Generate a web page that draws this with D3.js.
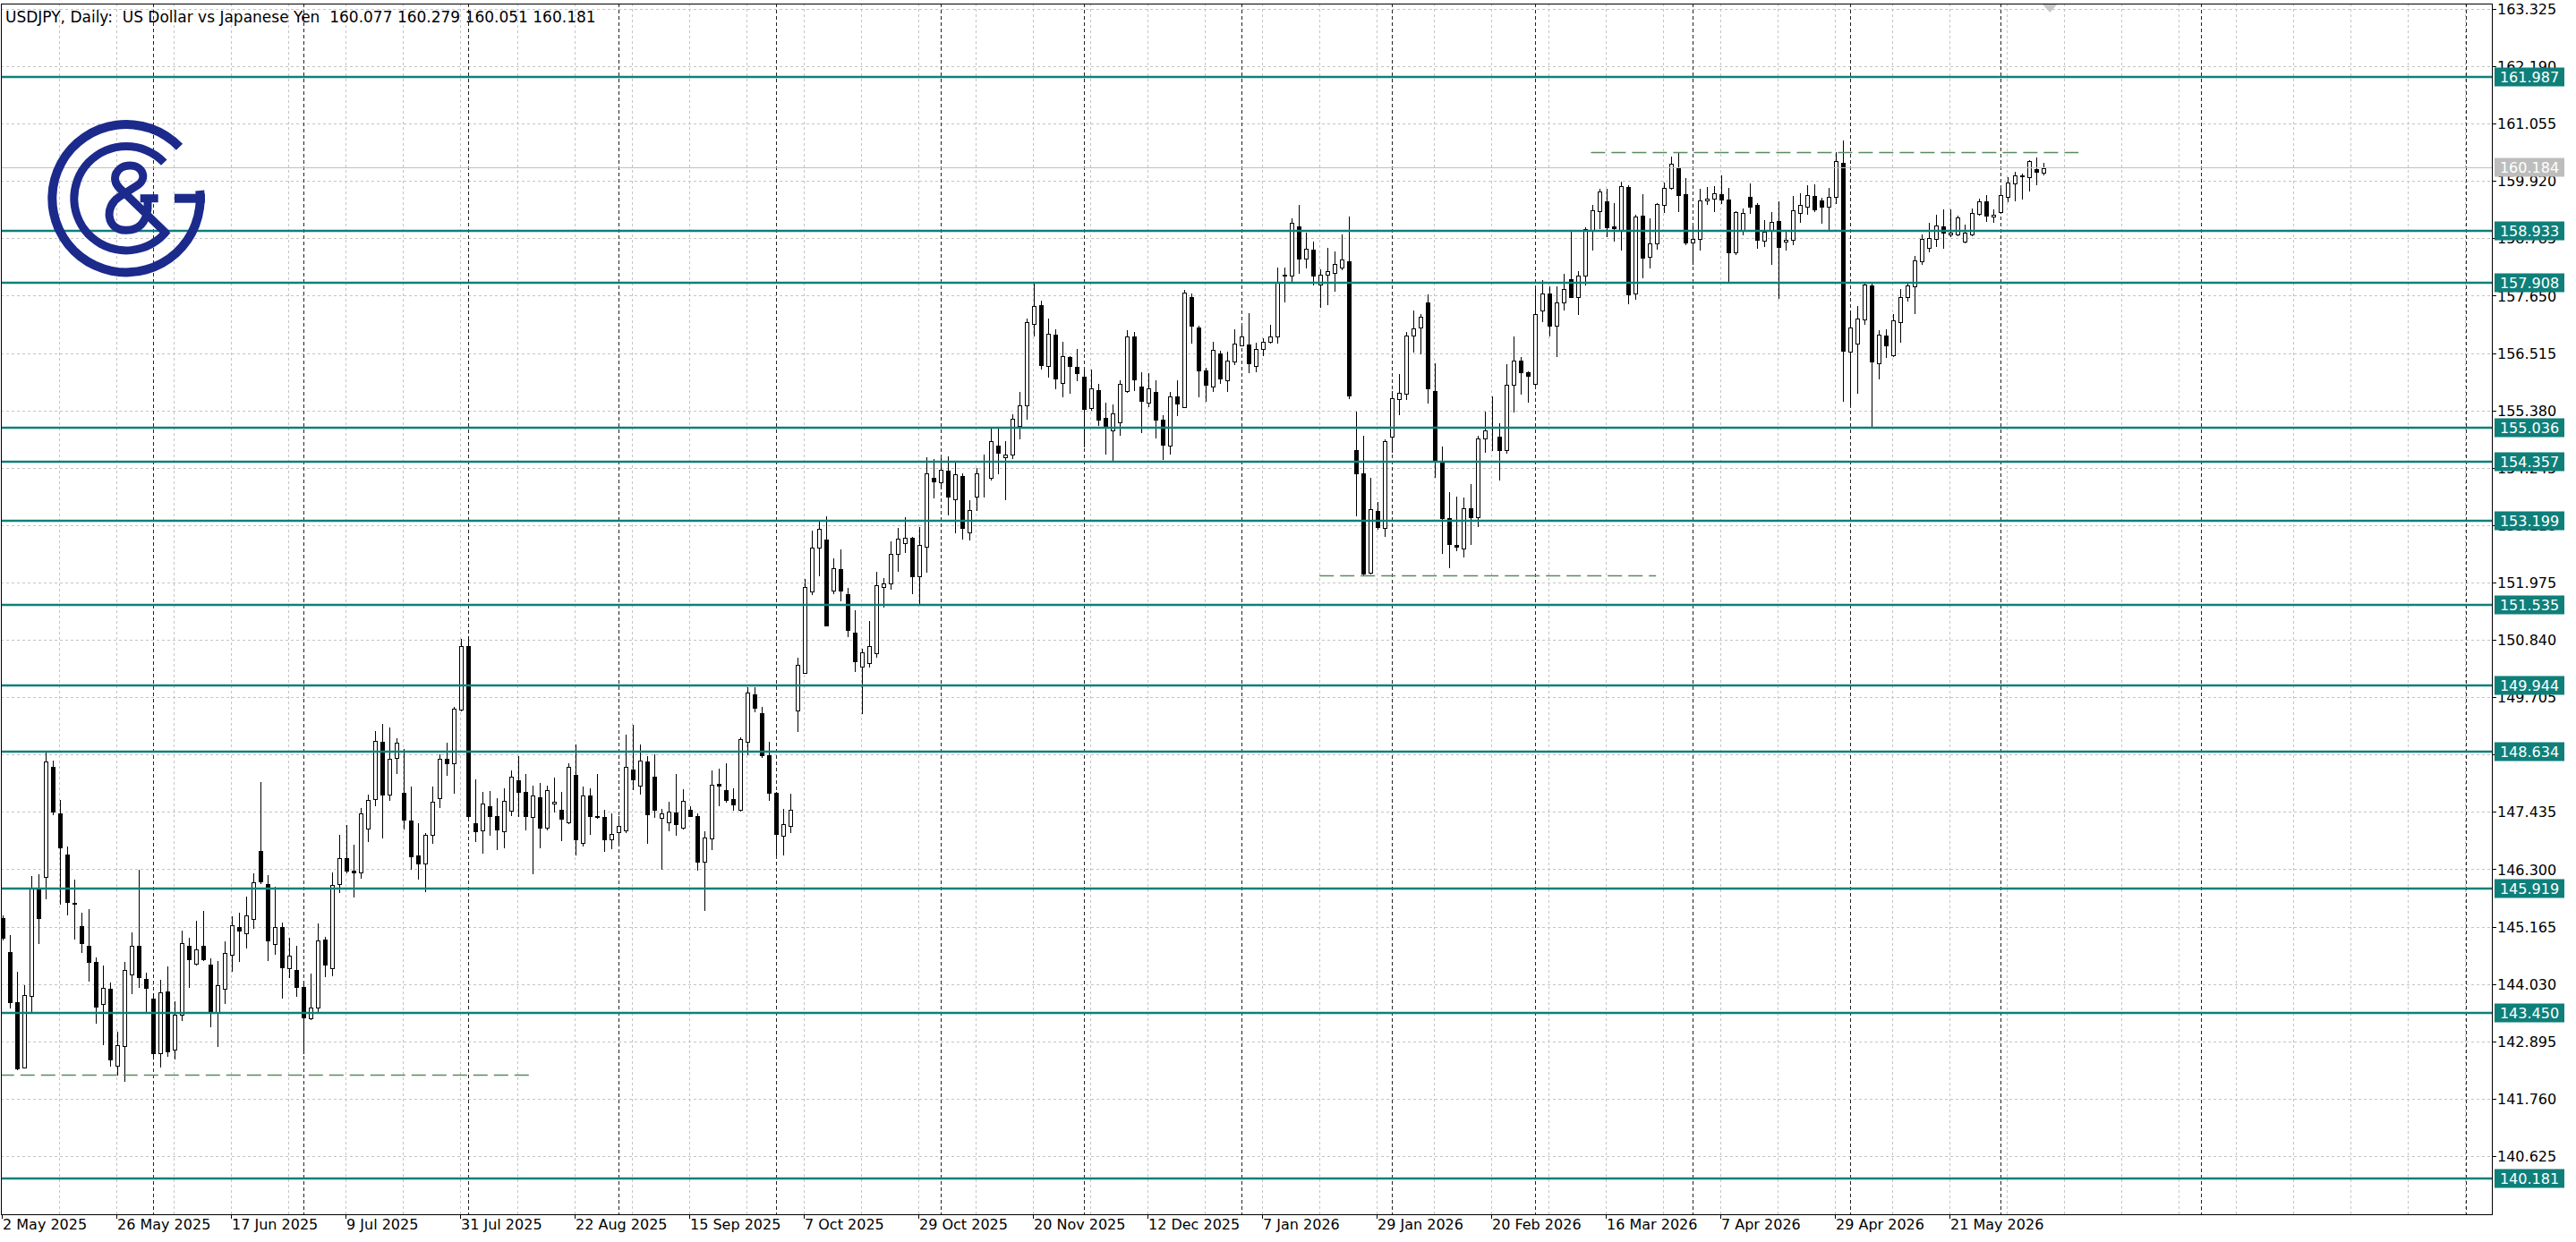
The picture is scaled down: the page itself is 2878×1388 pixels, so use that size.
<!DOCTYPE html>
<html><head><meta charset="utf-8">
<script src="https://cdn.jsdelivr.net/npm/d3@7"></script>
<style>
html,body{margin:0;padding:0;background:#fff;overflow:hidden}
svg text{font-family:"DejaVu Sans",sans-serif;}
</style></head><body>
<svg id="c" width="2878" height="1388"></svg>
<script>
// ---------- DATA ----------
const titleText = "USDJPY, Daily:  US Dollar vs Japanese Yen  160.077 160.279 160.051 160.181";
const opens = [
145.34,144.67,143.67,142.37,143.79,145.90,146.15,148.32,147.41,146.60,
145.63,145.17,144.78,144.46,143.64,143.94,142.41,142.80,144.22,144.78,
144.13,143.75,142.66,143.89,142.73,143.43,144.78,144.43,144.79,144.41,
143.46,143.94,144.61,145.15,145.03,145.32,146.67,146.01,144.82,145.15,
144.34,144.31,143.98,143.35,143.57,144.91,144.35,146.01,146.53,146.28,
146.23,147.10,147.69,148.82,147.78,148.51,147.82,147.26,146.58,146.42,
146.98,147.71,148.49,148.40,149.46,150.72,147.21,147.07,147.55,147.35,
147.06,147.46,148.06,147.83,147.33,147.72,147.13,147.60,147.48,147.23,
148.17,146.83,147.76,147.36,147.33,146.89,147.04,147.07,148.27,147.96,
148.44,148.13,147.31,147.23,147.43,147.12,147.48,147.36,146.45,146.91,
147.99,147.87,147.69,147.47,148.83,149.77,149.39,148.56,147.81,146.97,
147.16,149.44,150.19,151.79,152.67,152.82,151.81,152.24,151.75,150.99,
150.31,150.39,150.58,151.89,151.95,152.54,152.75,152.86,152.10,152.69,
154.05,153.96,154.19,153.63,154.09,152.96,153.67,154.13,154.04,154.69,
154.46,154.50,155.08,155.48,157.10,157.47,156.26,156.88,155.92,156.43,
156.24,156.05,155.42,155.79,155.23,154.99,155.14,155.77,156.85,155.85,
155.54,155.75,155.19,154.69,155.65,155.45,157.62,157.03,156.17,155.85,
156.50,155.98,156.34,156.67,156.68,156.26,156.59,156.74,156.84,158.06,
158.05,159.02,158.38,158.56,157.88,158.07,158.11,158.21,158.33,154.60,
154.14,152.17,153.40,153.06,154.86,155.60,155.71,156.87,157.03,157.52,
155.77,154.37,153.25,152.72,152.65,153.45,153.27,154.82,155.05,154.87,
154.59,155.88,156.36,156.14,155.91,157.36,157.69,157.06,157.52,157.98,
157.62,158.05,158.93,159.32,159.52,159.02,158.96,159.81,157.69,159.24,
158.42,158.69,159.45,159.78,160.17,159.66,158.70,158.77,159.54,159.57,
159.66,159.55,158.50,158.93,159.60,159.44,158.74,158.93,159.13,158.73,
158.76,159.29,159.42,159.62,159.54,159.42,159.61,160.28,156.54,156.70,
157.18,157.86,156.32,156.87,156.47,157.13,157.62,157.83,158.33,158.60,
158.77,159.02,158.87,158.87,158.73,158.86,159.27,159.51,159.22,159.31,
159.61,159.87,160.04,160.00,160.16,160.077];
const highs = [
145.38,145.00,144.27,144.01,146.17,146.20,148.61,148.46,147.68,146.75,
146.10,145.44,145.52,144.55,144.39,144.06,143.08,144.47,145.06,146.29,
144.25,143.84,144.11,144.38,143.68,145.08,144.95,145.29,145.47,144.53,
144.49,144.87,145.37,145.44,145.76,146.22,148.03,146.18,145.95,145.25,
144.95,144.78,144.08,144.24,145.22,144.97,146.24,146.99,147.18,146.79,
147.51,147.78,149.03,149.18,149.10,148.89,148.68,147.94,147.21,147.02,
147.94,148.57,148.81,149.52,150.86,150.91,148.08,147.83,147.85,147.70,
147.91,148.25,148.54,148.18,147.96,148.00,147.96,148.12,147.83,148.40,
148.77,147.93,147.90,148.18,147.47,147.40,147.35,148.96,149.16,148.77,
148.54,148.58,147.49,147.63,148.18,147.89,147.54,147.41,147.06,148.25,
148.29,148.39,147.91,148.91,149.91,149.91,149.52,148.83,147.83,147.50,
147.80,150.48,152.04,153.01,153.19,153.28,152.46,152.63,151.87,151.42,
150.66,151.21,152.19,152.06,152.79,153.06,153.27,152.88,153.07,154.45,
154.41,154.44,154.48,154.36,154.13,153.60,154.25,154.50,155.02,155.02,
154.77,155.31,155.74,157.19,157.90,157.55,157.19,156.99,156.74,156.46,
156.59,156.19,156.19,155.91,155.54,155.49,155.98,156.97,156.94,156.13,
156.12,155.98,155.28,155.74,155.98,157.77,157.69,157.05,156.22,156.73,
156.56,156.54,156.99,157.05,157.30,156.72,156.81,157.07,158.20,158.21,
159.19,159.45,158.89,158.72,158.17,158.60,158.52,158.87,159.22,155.35,
154.88,154.05,153.56,154.80,155.77,156.10,156.93,157.35,157.28,157.67,
156.31,154.66,153.77,153.68,153.65,153.93,154.88,155.35,155.66,155.13,
156.29,156.84,156.43,156.16,157.78,157.96,157.84,157.84,158.09,158.92,
158.14,159.01,159.44,159.76,159.76,159.49,159.91,159.83,159.26,159.66,
159.19,159.49,159.89,160.41,160.47,159.97,159.02,159.77,159.81,159.82,
160.04,159.78,159.32,159.38,159.88,159.48,159.14,159.31,159.52,158.93,
159.63,159.67,159.83,159.85,159.59,159.79,160.50,160.72,157.35,157.45,
157.93,157.93,156.96,156.99,157.28,157.78,157.93,158.43,158.86,159.10,
159.26,159.36,159.36,159.23,159.05,159.38,159.58,159.65,159.36,159.79,
160.00,160.10,160.07,160.34,160.39,160.279];
const lows = [
144.91,143.56,142.35,142.37,143.48,144.84,145.72,147.39,145.62,145.41,
144.92,144.67,144.10,143.27,142.83,142.41,142.23,142.12,143.84,143.97,
143.46,142.55,142.39,142.61,142.55,143.32,143.98,144.41,144.51,143.20,
142.80,143.65,144.29,144.48,144.75,145.14,146.03,144.51,144.62,143.76,
144.16,143.79,142.67,143.34,143.48,144.19,144.20,145.85,146.23,145.76,
146.13,146.86,147.56,146.93,147.68,148.20,147.10,146.31,146.12,145.87,
146.82,147.53,148.16,147.81,149.44,147.33,146.86,146.63,146.99,146.69,
146.74,147.37,147.36,147.08,146.22,146.73,147.08,147.44,146.87,147.21,
146.60,146.77,147.00,147.31,146.67,146.71,146.81,147.04,147.89,147.80,
146.83,147.33,146.31,147.07,146.99,147.10,147.35,146.29,145.49,146.70,
147.56,147.64,147.47,147.46,148.58,149.42,148.53,147.67,146.60,146.60,
147.03,149.04,150.18,151.75,152.12,151.12,151.77,151.62,150.92,150.23,
149.39,150.31,150.50,151.50,151.85,152.21,152.58,151.77,151.56,152.18,
153.65,153.85,153.32,152.96,152.85,152.82,153.41,153.68,154.02,154.13,
153.63,154.44,154.83,155.22,156.87,156.20,156.04,155.81,155.66,155.72,
155.98,154.66,155.39,155.10,154.53,154.37,154.90,155.75,155.79,154.95,
155.46,154.84,154.41,154.53,155.28,155.44,156.72,155.66,155.57,155.77,
155.92,155.77,156.30,156.66,156.13,156.16,156.47,156.72,156.72,157.54,
157.90,158.11,158.20,157.87,157.43,157.48,157.75,158.17,155.62,153.31,
152.13,152.15,153.03,152.89,154.56,155.30,155.60,156.54,156.51,155.54,
154.07,152.56,152.28,152.61,152.49,152.74,153.09,154.56,154.60,154.01,
154.54,155.35,155.71,155.55,155.89,157.15,156.86,156.45,157.37,157.62,
157.28,157.87,158.57,158.99,158.83,158.74,158.57,157.50,157.59,158.02,
158.21,158.58,159.30,159.77,159.33,158.67,158.27,158.56,159.47,159.32,
159.48,157.93,158.47,158.86,159.28,158.60,158.64,158.27,157.60,158.56,
158.67,159.11,159.27,159.33,159.10,158.96,159.48,155.57,155.50,155.72,
157.09,155.07,156.02,156.44,156.45,156.74,157.55,157.30,158.28,158.52,
158.64,158.59,158.82,158.84,158.71,158.84,159.26,159.12,159.11,159.29,
159.52,159.54,159.58,159.73,159.85,160.051];
const closes = [
144.94,143.67,142.36,143.81,145.93,145.34,148.44,147.45,146.74,145.65,
145.61,144.84,144.46,143.59,143.96,142.53,142.82,144.31,144.78,144.17,
143.95,142.66,143.86,142.70,143.42,144.84,144.52,144.72,144.52,143.48,
144.01,144.65,145.20,145.08,145.38,146.04,146.06,144.89,145.15,144.36,
144.60,143.98,143.37,143.57,144.90,144.41,145.99,146.53,146.28,146.23,
147.41,147.68,148.84,147.77,148.49,148.80,147.28,146.56,146.41,146.99,
147.63,148.49,148.39,149.48,150.72,147.36,147.06,147.60,147.36,147.08,
147.65,148.13,147.83,147.35,147.76,147.13,147.87,147.63,147.30,148.33,
146.90,147.76,147.36,147.34,146.90,147.00,147.16,148.33,148.08,148.46,
147.39,147.47,147.40,147.45,147.20,147.66,147.36,146.45,146.93,147.98,
147.96,147.67,147.58,148.87,149.79,149.49,148.56,147.81,147.00,147.20,
147.47,150.35,151.89,152.67,153.04,151.13,152.25,151.81,151.04,150.42,
150.59,150.72,151.92,151.96,152.54,152.85,152.86,152.10,152.72,154.13,
153.98,154.21,153.67,154.11,153.05,153.41,154.14,154.14,154.78,154.54,
154.51,155.21,155.48,157.13,157.45,156.28,156.89,156.02,156.46,156.26,
156.12,155.41,155.81,155.20,155.06,155.33,155.91,156.85,156.00,155.57,
155.82,155.19,154.70,155.66,155.51,157.71,157.05,156.17,155.88,156.57,
156.01,156.36,156.70,156.84,156.31,156.59,156.74,156.85,157.90,158.05,
159.09,158.38,158.58,158.05,158.06,158.14,158.27,158.36,155.68,154.14,
152.15,153.42,153.07,154.77,155.62,155.72,156.87,157.00,157.24,155.82,
154.37,153.25,152.74,152.68,153.45,153.27,154.83,154.98,155.06,154.60,
155.89,156.36,156.13,156.07,157.28,157.69,157.06,157.52,157.78,157.63,
158.05,158.97,159.34,159.72,159.00,158.98,159.82,157.68,159.22,158.41,
158.69,159.47,159.79,160.26,159.65,158.70,158.77,159.54,159.58,159.67,
159.55,158.50,159.31,159.29,159.42,158.76,158.92,159.11,158.61,158.76,
159.34,159.44,159.65,159.36,159.41,159.61,160.31,156.56,157.03,157.19,
157.87,156.35,156.88,156.67,157.16,157.62,157.86,158.35,158.77,158.79,
159.04,158.89,158.90,159.20,158.89,159.29,159.51,159.23,159.26,159.64,
159.89,160.03,160.01,160.31,160.11,160.181];

const dateLabels = ["2 May 2025","26 May 2025","17 Jun 2025","9 Jul 2025","31 Jul 2025","22 Aug 2025",
  "15 Sep 2025","7 Oct 2025","29 Oct 2025","20 Nov 2025","12 Dec 2025","7 Jan 2026","29 Jan 2026",
  "20 Feb 2026","16 Mar 2026","7 Apr 2026","29 Apr 2026","21 May 2026"];
const dateLabelBars = [0,16,32,48,64,80,96,112,128,144,160,176,192,208,224,240,256,272];
const monthStartBars = [21,42,65,86,108,131,151,173,194,214,236,258,279,307,344];
const priceTicks = [163.325,162.190,161.055,159.920,158.785,157.650,156.515,155.380,154.245,153.110,
  151.975,150.840,149.705,148.570,147.435,146.300,145.165,144.030,142.895,141.760,140.625];
const levelPrices = [161.987,158.933,157.908,155.036,154.357,153.199,151.535,149.944,148.634,145.919,143.450,140.181];
const bidPrice = 160.184;
const dashedFrom = [-0.4,183.9,221.8];
const dashedTo = [74.3,230.9,289.9];
const dashedPrice = [142.23,152.12,160.49];

// ---------- LAYOUT ----------
const FR = {l:1, t:4, r:2784, b:1357};
const x = d3.scaleLinear().domain([0,347]).range([3, 3+8*347]);
const y = d3.scaleLinear().domain([140.625,163.325]).range([1292,10]);
const TEAL = "#0f7f7a";
const py = v => Math.round(y(v)) + 0.5;

const svg = d3.select("#c");
svg.append("rect").attr("width",2878).attr("height",1388).attr("fill","#fff");
svg.append("defs").append("clipPath").attr("id","clip")
  .append("rect").attr("x",FR.l+1).attr("y",FR.t+1).attr("width",FR.r-FR.l-1).attr("height",FR.b-FR.t-1);
const plot = svg.append("g").attr("clip-path","url(#clip)");

// horizontal grid
plot.append("g").selectAll("line").data(priceTicks).join("line")
  .attr("x1",FR.l).attr("x2",FR.r).attr("y1",d=>py(d)).attr("y2",d=>py(d))
  .attr("stroke","#c4c4c4").attr("stroke-dasharray","3,3").attr("stroke-width",1);
// vertical grid every 8 bars
const vgrid = d3.range(8, 348, 8);
plot.append("g").selectAll("line").data(vgrid).join("line")
  .attr("x1",d=>x(d)-0.5).attr("x2",d=>x(d)-0.5).attr("y1",FR.t).attr("y2",FR.b)
  .attr("stroke","#c4c4c4").attr("stroke-dasharray","3,3").attr("stroke-width",1);
// month separators
plot.append("g").selectAll("line").data(monthStartBars).join("line")
  .attr("x1",d=>x(d)+0.5).attr("x2",d=>x(d)+0.5).attr("y1",FR.t).attr("y2",FR.b)
  .attr("stroke","#222").attr("stroke-dasharray","4,3").attr("stroke-width",1);

// candles
const idx = d3.range(opens.length);
const cg = plot.append("g");
cg.selectAll("line.w").data(idx).join("line").attr("class","w")
  .attr("x1",i=>x(i)+0.5).attr("x2",i=>x(i)+0.5)
  .attr("y1",i=>Math.round(y(highs[i]))).attr("y2",i=>Math.round(y(lows[i]))+1)
  .attr("stroke","#000").attr("stroke-width",1);
cg.selectAll("rect.b").data(idx).join("rect").attr("class","b")
  .attr("x",i=>x(i)-1.5).attr("width",4)
  .attr("y",i=>py(Math.max(opens[i],closes[i])))
  .attr("height",i=>Math.max(0, py(Math.min(opens[i],closes[i])) - py(Math.max(opens[i],closes[i]))))
  .attr("fill",i=>closes[i]>=opens[i]?"#fff":"#000")
  .attr("stroke","#000").attr("stroke-width",1);

// dashed support/resistance segments
plot.append("g").selectAll("line").data(dashedPrice).join("line")
  .attr("x1",(d,i)=>x(dashedFrom[i])).attr("x2",(d,i)=>x(dashedTo[i]))
  .attr("y1",d=>py(d)).attr("y2",d=>py(d))
  .attr("stroke","#5a8a5e").attr("stroke-width",1.3).attr("stroke-dasharray","16,7");

// bid line
plot.append("line").attr("x1",FR.l).attr("x2",FR.r).attr("y1",py(bidPrice)).attr("y2",py(bidPrice))
  .attr("stroke","#c0c0c0").attr("stroke-width",1);

// level lines
plot.append("g").selectAll("line").data(levelPrices).join("line")
  .attr("x1",FR.l).attr("x2",FR.r).attr("y1",d=>Math.round(y(d))).attr("y2",d=>Math.round(y(d)))
  .attr("stroke",TEAL).attr("stroke-width",2.4);

// chart shift marker
svg.append("path").attr("d",`M${x(285.9)-8},${FR.t+1}L${x(285.9)+8},${FR.t+1}L${x(285.9)},${FR.t+10}Z`).attr("fill","#c8c8c8");

// frame
svg.append("rect").attr("x",FR.l+0.5).attr("y",FR.t+0.5).attr("width",FR.r-FR.l).attr("height",FR.b-FR.t)
  .attr("fill","none").attr("stroke","#000").attr("stroke-width",1);

// y axis labels
const ya = svg.append("g");
ya.selectAll("line").data(priceTicks).join("line")
  .attr("x1",FR.r+0.5).attr("x2",FR.r+5).attr("y1",d=>py(d)).attr("y2",d=>py(d)).attr("stroke","#000");
ya.selectAll("text").data(priceTicks).join("text")
  .attr("x",FR.r+6).attr("y",d=>y(d)+6).attr("font-size",16).attr("fill","#000")
  .text(d=>d3.format(".3f")(d));
// level boxes
const lb = svg.append("g").selectAll("g").data(levelPrices).join("g");
lb.append("rect").attr("x",FR.r+3).attr("width",78).attr("y",d=>Math.round(y(d))-10.5).attr("height",21).attr("fill",TEAL);
lb.append("text").attr("x",FR.r+42).attr("y",d=>y(d)+6).attr("text-anchor","middle")
  .attr("font-size",16).attr("fill","#fff").text(d=>d3.format(".3f")(d));
// bid box
svg.append("rect").attr("x",FR.r+3).attr("width",78).attr("y",Math.round(y(bidPrice))-10.5).attr("height",21).attr("fill","#bdbdbd");
svg.append("text").attr("x",FR.r+42).attr("y",y(bidPrice)+6).attr("text-anchor","middle")
  .attr("font-size",16).attr("fill","#fff").text(d3.format(".3f")(bidPrice));

// x axis labels
const xa = svg.append("g");
xa.selectAll("line").data(dateLabelBars).join("line")
  .attr("x1",d=>x(d)-0.5).attr("x2",d=>x(d)-0.5).attr("y1",FR.b).attr("y2",FR.b+5).attr("stroke","#000");
xa.selectAll("text").data(dateLabels).join("text")
  .attr("x",(d,i)=>x(dateLabelBars[i])).attr("y",FR.b+17).attr("font-size",16).attr("fill","#000")
  .text(d=>d);

// title
svg.append("text").attr("x",6).attr("y",25).attr("font-size",17).attr("fill","#000")
  .style("white-space","pre").text(titleText);

// logo
const logo = svg.append("g").attr("transform","translate(141,221.7)").attr("fill","#1c2a8c");
logo.append("path").attr("d", d3.arc().innerRadius(77.7).outerRadius(87.7).startAngle(Math.PI*84/180).endAngle(Math.PI*406/180)());
logo.append("path").attr("d", d3.arc().innerRadius(53.7).outerRadius(62.7).startAngle(Math.PI*128/180).endAngle(Math.PI*406.6/180)());
logo.append("rect").attr("x",54).attr("y",-5).attr("width",34).attr("height",10);
const amp = d3.path();
amp.moveTo(45.7,40); amp.lineTo(-7.7,-11.7);
amp.bezierCurveTo(-17.7,-21.7,-11,-36.7,4,-36.7);
amp.bezierCurveTo(19,-36.7,24,-21.7,12.3,-14.4);
amp.lineTo(-7.7,-1.7);
amp.bezierCurveTo(-24.3,8.3,-22.7,35,-1,35.6);
amp.bezierCurveTo(15.7,36.3,22.3,25,24,11.6);
amp.lineTo(24,0);
logo.append("path").attr("d",amp.toString()).attr("fill","none").attr("stroke","#1c2a8c").attr("stroke-width",9);
logo.append("rect").attr("x",15.7).attr("y",-4.5).attr("width",20).attr("height",9);
</script>
</body></html>
